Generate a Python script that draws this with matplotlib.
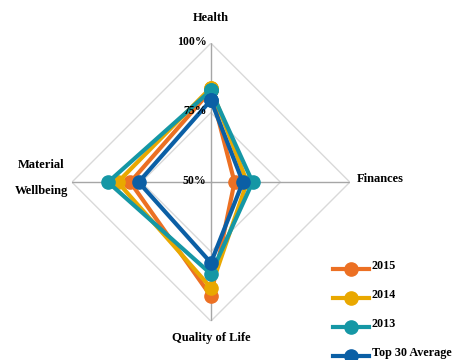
import numpy as np
import matplotlib
matplotlib.use("Agg")
import matplotlib.pyplot as plt
import matplotlib.transforms as mtransforms

# score per dimension (percent), axes go clockwise from the top
categories = ["Health", "Finances", "Quality of Life", "Material\nWellbeing"]
series_names = ["2015", "2014", "2013", "Top 30 Average"]
vals_2015 = [83, 58.5, 91, 79]
vals_2014 = [84, 63, 88, 83.5]
vals_2013 = [83, 65, 83, 87]
vals_top30 = [79.5, 61.5, 79, 76]
ring_labels = ["50%", "75%", "100%"]
ring_values = [50, 75, 100]

colors = ["#EC7023", "#E9A800", "#1597A5", "#0B5FA5"]

plt.rcParams["font.family"] = ["Liberation Serif", "DejaVu Serif"]

fig = plt.figure(figsize=(4.55, 3.6), dpi=100)
ax = fig.add_axes([0.158, 0.108, 0.611, 0.772], projection="polar")

theta = np.deg2rad([90, 0, 270, 180])
theta_closed = np.append(theta, theta[0])

ax.set_ylim(50, 100)
ax.set_xticks([])
ax.set_yticks([])
ax.grid(False)
ax.spines["polar"].set_visible(False)
ax.patch.set_visible(False)

# diamond grid rings and spokes
for rv in ring_values[1:]:
    ax.plot(theta_closed, [rv] * 5, color="#D9D9D9", lw=1.0, zorder=1)
for t in theta:
    ax.plot([t, t], [50, 100], color="#A6A6A6", lw=1.0, zorder=1)

all_vals = [vals_2015, vals_2014, vals_2013, vals_top30]
for name, vals, c in zip(series_names, all_vals, colors):
    v = np.append(vals, vals[0])
    ax.plot(theta_closed, v, color=c, lw=3, marker="o", ms=9.5,
            label=name, zorder=3, clip_on=False)

# percent labels along the top spoke
for lab, rv in zip(ring_labels, ring_values):
    ax.annotate(lab, xy=(np.pi / 2, rv), xytext=(-3, 1),
                textcoords="offset points", ha="right", va="center",
                fontsize=8.5, fontweight="bold")

# category labels
ax.annotate(categories[0], xy=(theta[0], 100), xytext=(0, 18),
            textcoords="offset points", ha="center", va="center",
            fontsize=9, fontweight="bold")
ax.annotate(categories[1], xy=(theta[1], 100), xytext=(5, 2),
            textcoords="offset points", ha="left", va="center",
            fontsize=9, fontweight="bold")
ax.annotate(categories[2], xy=(theta[2], 100), xytext=(0, -12),
            textcoords="offset points", ha="center", va="center",
            fontsize=9, fontweight="bold")
ax.annotate(categories[3], xy=(theta[3], 100), xytext=(-22, 3),
            textcoords="offset points", ha="center", va="center",
            fontsize=9, fontweight="bold", linespacing=2.5)

leg = fig.legend(loc="upper left", bbox_to_anchor=(0.708, 0.295),
                 frameon=False, fontsize=8.7, handlelength=3.0,
                 handletextpad=0.2, labelspacing=1.4)
# legend labels sit a little above their line
lift = mtransforms.ScaledTranslation(0, 3.5 / 72, fig.dpi_scale_trans)
for t in leg.get_texts():
    t.set_fontweight("bold")
    t.set_transform(t.get_transform() + lift)

fig.savefig("out.png", dpi=100)
